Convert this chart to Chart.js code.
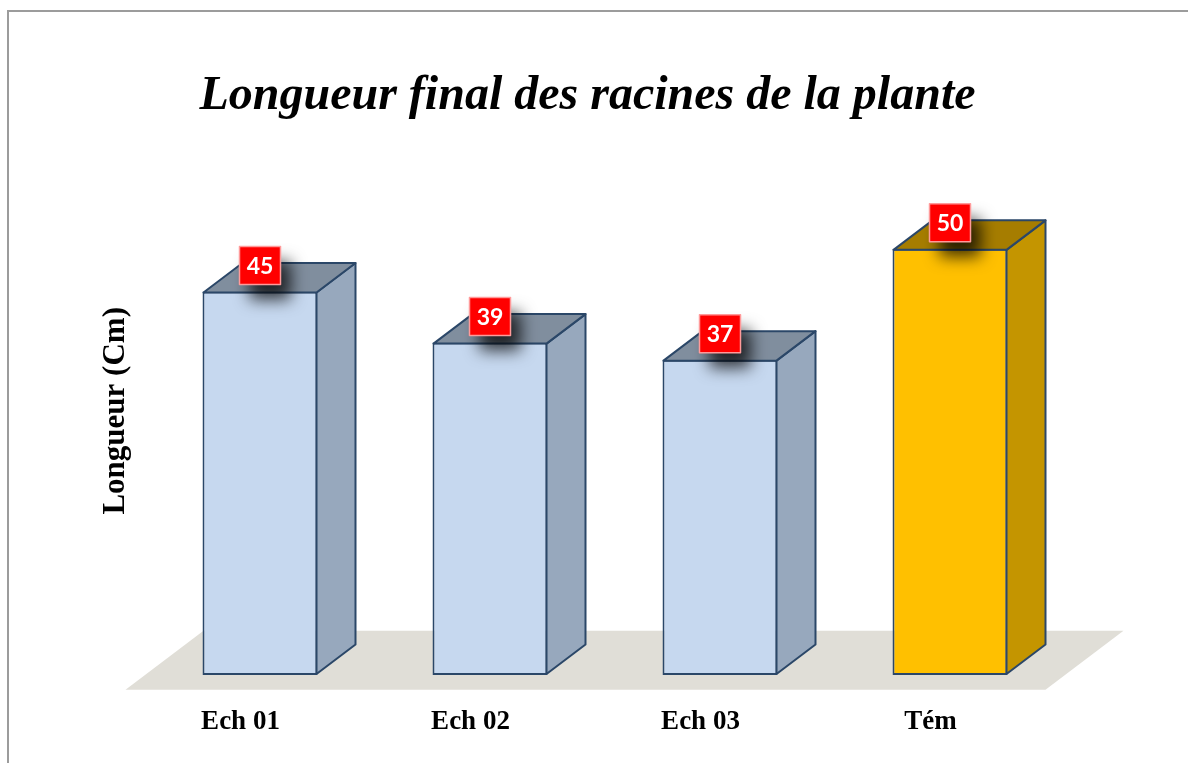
<!DOCTYPE html>
<html>
<head>
<meta charset="utf-8">
<title>Longueur final des racines de la plante</title>
<script src="https://cdn.jsdelivr.net/npm/chart.js@4.4.1/dist/chart.umd.min.js"></script>
<style>
  html, body { margin: 0; padding: 0; background: #ffffff; }
  #wrap { width: 1188px; height: 763px; }
</style>
</head>
<body>
<div id="wrap"><canvas id="chart" width="1188" height="763"></canvas></div>
<script>
// Chart data
const categories = ['Ech 01', 'Ech 02', 'Ech 03', 'Tém'];
const longueurs = [45, 39, 37, 50];
const chartTitle = 'Longueur final des racines de la plante';
const axisTitle = 'Longueur (Cm)';

// Face colours for each bar (front / right side / top)
const frontColors = ['#C6D8EF', '#C6D8EF', '#C6D8EF', '#FFC000'];
const sideColors  = ['#97A8BD', '#97A8BD', '#97A8BD', '#C49500'];
const topColors   = ['#808E9E', '#808E9E', '#808E9E', '#A67D00'];
const edgeColor = '#2B4768';

// Oblique projection of the bar depth
const DEPTH_X = 39;
const DEPTH_Y = -29.5;

const serif = '"Liberation Serif", "Times New Roman", serif';

// Draws the floor, the side/top faces of each bar and the value boxes
const bars3d = {
  id: 'bars3d',
  beforeDraw(chart) {
    const ctx = chart.ctx;
    ctx.save();
    ctx.strokeStyle = '#9c9c9c';
    ctx.lineWidth = 2;
    ctx.strokeRect(8, 11, 1400, 1000);
    ctx.restore();
  },
  beforeDatasetsDraw(chart) {
    const {ctx, chartArea: a} = chart;
    const fy = a.bottom - 0.5 * DEPTH_Y;
    const fx = -0.5 * DEPTH_X;
    const by = a.bottom + 1.5 * DEPTH_Y;
    const bx = 1.5 * DEPTH_X;
    ctx.save();
    ctx.fillStyle = '#E0DED7';
    ctx.beginPath();
    ctx.moveTo(a.left + fx, fy);
    ctx.lineTo(a.right + fx, fy);
    ctx.lineTo(a.right + bx, by);
    ctx.lineTo(a.left + bx, by);
    ctx.closePath();
    ctx.fill();
    ctx.restore();
  },
  afterDatasetsDraw(chart) {
    const ctx = chart.ctx;
    const meta = chart.getDatasetMeta(0);
    ctx.save();
    ctx.lineWidth = 2;
    ctx.lineJoin = 'round';
    ctx.strokeStyle = edgeColor;
    meta.data.forEach((bar, i) => {
      const {x, y, base, width} = bar.getProps(['x', 'y', 'base', 'width'], true);
      const l = x - width / 2 + 1, r = x + width / 2 - 1;
      const t = y + 1, b = base - 1;
      // right side
      ctx.fillStyle = sideColors[i];
      ctx.beginPath();
      ctx.moveTo(r, t);
      ctx.lineTo(r + DEPTH_X, t + DEPTH_Y);
      ctx.lineTo(r + DEPTH_X, b + DEPTH_Y);
      ctx.lineTo(r, b);
      ctx.closePath();
      ctx.fill();
      ctx.stroke();
      // top
      ctx.fillStyle = topColors[i];
      ctx.beginPath();
      ctx.moveTo(l, t);
      ctx.lineTo(l + DEPTH_X, t + DEPTH_Y);
      ctx.lineTo(r + DEPTH_X, t + DEPTH_Y);
      ctx.lineTo(r, t);
      ctx.closePath();
      ctx.fill();
      ctx.stroke();
    });
    // value boxes
    meta.data.forEach((bar, i) => {
      const {x, y} = bar.getProps(['x', 'y'], true);
      const w = 41, h = 38;
      const cx = x, cy = y - 26;
      ctx.save();
      ctx.shadowColor = 'rgba(0,0,0,0.75)';
      ctx.shadowBlur = 16;
      ctx.shadowOffsetX = 10;
      ctx.shadowOffsetY = 15;
      ctx.fillStyle = '#FF0000';
      ctx.fillRect(cx - w / 2, cy - h / 2, w, h);
      ctx.restore();
      ctx.save();
      ctx.strokeStyle = '#FF9A9A';
      ctx.lineWidth = 1.5;
      ctx.strokeRect(cx - w / 2, cy - h / 2, w, h);
      ctx.fillStyle = '#FFFFFF';
      ctx.font = 'bold 23px Lato, "Open Sans", sans-serif';
      ctx.textAlign = 'center';
      ctx.textBaseline = 'middle';
      ctx.fillText(String(longueurs[i]), cx, cy + 1);
      ctx.restore();
    });
    ctx.restore();
  }
};

new Chart(document.getElementById('chart'), {
  type: 'bar',
  data: {
    labels: categories,
    datasets: [{
      data: longueurs,
      backgroundColor: frontColors,
      borderColor: edgeColor,
      borderWidth: 2,
      borderSkipped: false,
      categoryPercentage: 1,
      barPercentage: 0.5
    }]
  },
  options: {
    responsive: false,
    animation: false,
    layout: { padding: { left: 0, right: 13, top: 0, bottom: 0 } },
    plugins: {
      legend: { display: false },
      tooltip: { enabled: false },
      title: {
        display: true,
        text: chartTitle,
        color: '#000000',
        font: { family: serif, size: 48, style: 'italic', weight: 'bold' },
        padding: { top: 68, bottom: 21 }
      }
    },
    scales: {
      x: {
        grid: { display: false, drawTicks: false },
        border: { display: false },
        ticks: {
          color: '#000000',
          font: { family: serif, size: 27, weight: 'bold' },
          padding: 31,
          labelOffset: -19.5,
          maxRotation: 0
        },
        afterFit(scale) { scale.height = 88; }
      },
      y: {
        min: 0,
        max: 62,
        grid: { display: false, drawTicks: false },
        border: { display: false },
        ticks: { display: false },
        title: {
          display: true,
          text: axisTitle,
          color: '#000000',
          font: { family: serif, size: 31, weight: 'bold' },
          padding: { top: 97, bottom: 0 }
        },
        afterFit(scale) { scale.width = 145; }
      },
      yRight: {
        position: 'right',
        display: true,
        grid: { display: false, drawTicks: false },
        border: { display: false },
        ticks: { display: false },
        afterFit(scale) { scale.width = 110; }
      }
    }
  },
  plugins: [bars3d]
});
</script>
</body>
</html>
